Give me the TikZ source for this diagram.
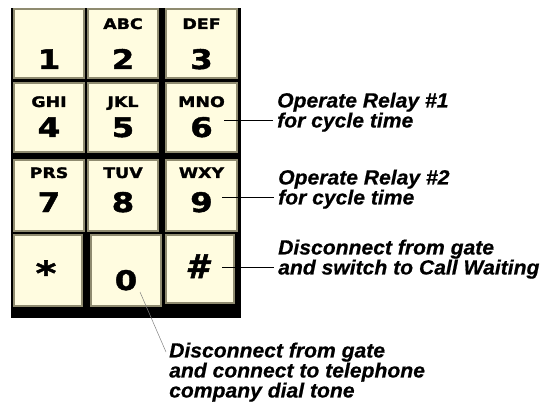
\documentclass[tikz,border=0pt]{standalone}
\usepackage{fontspec}
\setmainfont{Liberation Sans}
\newfontfamily\keyfont[FakeStretch=1.2, FakeBold=1.6]{DejaVu Sans Bold}
\newfontfamily\hashfont[FakeBold=1.6]{DejaVu Sans Bold Oblique}
\newfontfamily\notefont[FakeBold=0.7, FakeStretch=1.03]{Liberation Sans Bold Italic}
\usetikzlibrary{calc}
\definecolor{keyfill}{HTML}{FFFCE0}
\definecolor{keyedge}{HTML}{8F8B70}
\definecolor{leadgray}{HTML}{808080}
\tikzset{
  keybox/.style={draw=keyedge, fill=keyfill, line width=1.3pt, inner sep=0pt},
  lettxt/.style={font=\keyfont\fontsize{14.5}{14.5}\selectfont, inner sep=0pt, anchor=base},
  digtxt/.style={font=\keyfont\fontsize{27}{27}\selectfont, inner sep=0pt, anchor=base},
  startxt/.style={font=\keyfont\fontsize{33}{33}\selectfont, inner sep=0pt, anchor=base},
  hashtxt/.style={font=\hashfont\fontsize{33}{33}\selectfont, inner sep=0pt, anchor=base},
  note/.style={font=\notefont\fontsize{20.5}{20}\selectfont, align=left, inner sep=0pt, anchor=north west},
  lead/.style={line width=0.9pt, shorten >=4pt},
  leadthin/.style={draw=leadgray, line width=0.5pt}
}
\begin{document}
\begin{tikzpicture}[x=1pt,y=-1pt]
\useasboundingbox (0,0) rectangle (553,403);
% black frame
\fill[black] (11,8) rectangle (241,318);
% keys
\node[keybox, minimum width=70pt, minimum height=69pt] (k1) at (49,43.5) {};
\node[keybox, minimum width=70pt, minimum height=69pt] (k2) at (123,43.5) {};
\node[keybox, minimum width=71pt, minimum height=69pt] (k3) at (201.5,43.5) {};
\node[keybox, minimum width=70pt, minimum height=69pt] (k4) at (49,117.5) {};
\node[keybox, minimum width=70pt, minimum height=69pt] (k5) at (123,117.5) {};
\node[keybox, minimum width=71pt, minimum height=69pt] (k6) at (201.5,117.5) {};
\node[keybox, minimum width=70pt, minimum height=71pt] (k7) at (49,195.5) {};
\node[keybox, minimum width=70pt, minimum height=71pt] (k8) at (123,195.5) {};
\node[keybox, minimum width=71pt, minimum height=71pt] (k9) at (201.5,195.5) {};
\node[keybox, minimum width=68pt, minimum height=71pt] (kstar) at (48,270.5) {};
\node[keybox, minimum width=70pt, minimum height=71pt] (k0) at (126,270.5) {};
\node[keybox, minimum width=68pt, minimum height=68pt] (khash) at (200,269) {};
% letters
\node[lettxt] (l2) at (123,29) {ABC};
\node[lettxt] (l3) at (201.5,29) {DEF};
\node[lettxt] (l4) at (49,107) {GHI};
\node[lettxt] (l5) at (123,107) {JKL};
\node[lettxt] (l6) at (201.5,107) {MNO};
\node[lettxt] (l7) at (49,178) {PRS};
\node[lettxt] (l8) at (123,178) {TUV};
\node[lettxt] (l9) at (201.5,178) {WXY};
% digits
\node[digtxt] (d1) at (49,69) {1};
\node[digtxt] (d2) at (123,69) {2};
\node[digtxt] (d3) at (201.5,69) {3};
\node[digtxt] (d4) at (49,137) {4};
\node[digtxt] (d5) at (123,137) {5};
\node[digtxt] (d6) at (201.5,137) {6};
\node[digtxt] (d7) at (49,212) {7};
\node[digtxt] (d8) at (123,212) {8};
\node[digtxt] (d9) at (201.5,212) {9};
\node[startxt] (dstar) at (46,285) {*};
\node[digtxt] (d0) at (126,290) {0};
\node[hashtxt] (dhash) at (197,278) {\#};
% notes
\node[note] (t1) at (277,92.4) {Operate Relay \#1\\for cycle time};
\node[note] (t2) at (278,169.4) {Operate Relay \#2\\for cycle time};
\node[note] (t3) at (278,239.4) {Disconnect from gate\\and switch to Call Waiting};
\node[note] (t0) at (169,342.4) {Disconnect from gate\\and connect to telephone\\company dial tone};
% connectors
\coordinate (c6) at (224,120);
\coordinate (c9) at (222,197);
\coordinate (ch) at (222,267);
\coordinate (c0) at (140,292);
\coordinate (e0) at (166,352);
\draw[lead] (c6) -- (c6 -| t1.west);
\draw[lead] (c9) -- (c9 -| t2.west);
\draw[lead] (ch) -- (ch -| t3.west);
\draw[leadthin] (c0) -- (e0);
\end{tikzpicture}
\end{document}
